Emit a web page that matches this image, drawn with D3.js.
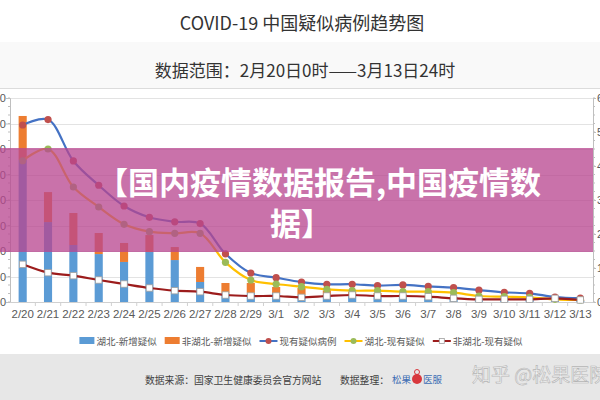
<!DOCTYPE html>
<html>
<head>
<meta charset="utf-8">
<script src="https://cdn.jsdelivr.net/npm/d3@7"></script>
<style>
html,body{margin:0;padding:0;background:#fff;}
svg{display:block;font-family:"Noto Sans CJK SC","Noto Sans",sans-serif;}
</style>
</head>
<body>
<svg id="c" width="600" height="400"></svg>
<script>
// ---- data ----
const dates = ["2/20","2/21","2/22","2/23","2/24","2/25","2/26","2/27","2/28","2/29","3/1","3/2","3/3","3/4","3/5","3/6","3/7","3/8","3/9","3/10","3/11","3/12","3/13"];
const hubeiNew    = [1114,627,447,376,314,392,329,157,71,71,71,55,50,50,40,40,30,25,20,15,15,10,10];
const nonHubeiNew = [345,235,251,165,149,133,102,118,78,78,47,55,40,30,30,20,15,15,10,10,10,8,8];
const totalCurrent    = [5206,5365,4148,3434,2824,2491,2358,2308,1418,851,715,587,520,522,482,502,458,421,349,285,253,147,115];
const hubeiCurrent    = [4155,4500,3382,2794,2285,2068,2020,2020,1167,647,529,451,373,333,333,304,304,275,176,157,137,78,59];
const nonHubeiCurrent = [1108,862,774,647,529,412,333,303,206,176,176,137,176,206,176,176,157,108,78,78,78,108,59];
const leftTicks  = [0,200,400,600,800,1000,1200,1400,1600];
const rightTicks = [0,1000,2000,3000,4000,5000,6000];
const legendItems = [
  {name:"湖北-新增疑似", type:"bar", color:"#5b9bd5"},
  {name:"非湖北-新增疑似", type:"bar", color:"#ed7d31"},
  {name:"现有疑似病例", type:"line", color:"#4472c4", marker:"#c0504d", shape:"circle"},
  {name:"湖北-现有疑似", type:"line", color:"#ffc000", marker:"#9bbb59", shape:"circle"},
  {name:"非湖北-现有疑似", type:"line", color:"#9c1c1c", marker:"#ffffff", shape:"square"}
];
const title = "COVID-19 中国疑似病例趋势图";
const subtitle = "数据范围：2月20日0时——3月13日24时";
const overlayLines = ["【国内疫情数据报告,中国疫情数","据】"];

// ---- layout ----
const svg = d3.select("#c");
const L = 10, R = 593, T = 98, B = 302;

// header
svg.append("rect").attr("x",0).attr("y",0).attr("width",600).attr("height",42).attr("fill","#ffffff");
svg.append("rect").attr("x",0).attr("y",42).attr("width",600).attr("height",46).attr("fill","#f9f9f9");
svg.append("line").attr("x1",0).attr("x2",600).attr("y1",88.5).attr("y2",88.5).attr("stroke","#dcdcdc");
svg.append("text").attr("x",302).attr("y",30).attr("text-anchor","middle").attr("font-size",18).attr("fill","#333").text(title);
svg.append("text").attr("x",305).attr("y",77).attr("text-anchor","middle").attr("font-size",17).attr("fill","#333").text(subtitle);

const x = d3.scaleBand().domain(dates).range([L,R]).paddingInner(0.68).paddingOuter(0.34);
const yL = d3.scaleLinear().domain([0,1600]).range([B,T]);
const yR = d3.scaleLinear().domain([0,6000]).range([B,T]);
const cx = d => x(d) + x.bandwidth()/2;

// gridlines
svg.append("g").selectAll("line").data(leftTicks.slice(1)).join("line")
  .attr("x1",L).attr("x2",R).attr("y1",d=>Math.round(yL(d))+0.5).attr("y2",d=>Math.round(yL(d))+0.5)
  .attr("stroke","#e3e3e3");

// left axis
const gl = svg.append("g").attr("transform",`translate(${L},0)`)
  .call(d3.axisLeft(yL).tickValues(leftTicks).tickSize(4).tickFormat(d3.format("d")));
gl.select(".domain").attr("stroke","#bfbfbf");
gl.selectAll(".tick line").attr("stroke","#bfbfbf");
gl.selectAll("text").attr("font-size",11).attr("fill","#595959").attr("x",-4);
const minorL = d3.range(0,1600.1,1600/24);
svg.append("g").selectAll("line").data(minorL).join("line")
  .attr("x1",L-2).attr("x2",L).attr("y1",d=>yL(d)).attr("y2",d=>yL(d)).attr("stroke","#bfbfbf");

// right axis
const gr = svg.append("g").attr("transform",`translate(${R},0)`)
  .call(d3.axisRight(yR).tickValues(rightTicks).tickSize(3).tickFormat(d3.format("d")));
gr.select(".domain").attr("stroke","#bfbfbf");
gr.selectAll(".tick line").attr("stroke","#bfbfbf");
gr.selectAll("text").attr("font-size",11).attr("fill","#595959").attr("x",4);
const minorR = d3.range(0,6000.1,250);
svg.append("g").selectAll("line").data(minorR).join("line")
  .attr("x1",R).attr("x2",R+2).attr("y1",d=>yR(d)).attr("y2",d=>yR(d)).attr("stroke","#bfbfbf");

// x axis
const gx = svg.append("g").attr("transform",`translate(0,${B})`)
  .call(d3.axisBottom(x).tickSize(0).tickPadding(8));
gx.select(".domain").attr("stroke","#d0d0d0");
gx.selectAll("text").attr("font-size",11.5).attr("fill","#595959");
svg.append("g").selectAll("line").data(dates.slice(1)).join("line")
  .attr("x1",d=>x(d)-x.step()*0.34).attr("x2",d=>x(d)-x.step()*0.34)
  .attr("y1",B).attr("y2",B+4).attr("stroke","#d0d0d0");

// bars
const stackData = dates.map((d,i)=>({d, a:hubeiNew[i], b:nonHubeiNew[i]}));
svg.append("g").selectAll("rect").data(stackData).join("rect")
  .attr("x",s=>x(s.d)).attr("width",x.bandwidth())
  .attr("y",s=>yL(s.a)).attr("height",s=>yL(0)-yL(s.a)).attr("fill","#5b9bd5");
svg.append("g").selectAll("rect").data(stackData).join("rect")
  .attr("x",s=>x(s.d)).attr("width",x.bandwidth())
  .attr("y",s=>yL(s.a+s.b)).attr("height",s=>yL(s.a)-yL(s.a+s.b)).attr("fill","#ed7d31");

// lines
const series = [
  {vals:totalCurrent, item:legendItems[2]},
  {vals:hubeiCurrent, item:legendItems[3]},
  {vals:nonHubeiCurrent, item:legendItems[4]}
];
const lineGen = d3.line().x(p=>cx(p.d)).y(p=>yR(p.v)).curve(d3.curveCatmullRom.alpha(0.5));
series.forEach(s=>{
  const pts = dates.map((d,i)=>({d, v:s.vals[i]}));
  svg.append("path").datum(pts).attr("d",lineGen).attr("fill","none")
    .attr("stroke",s.item.color).attr("stroke-width",2.2);
  const g = svg.append("g");
  if (s.item.shape==="circle") {
    g.selectAll("circle").data(pts).join("circle")
      .attr("cx",p=>cx(p.d)).attr("cy",p=>yR(p.v)).attr("r",3.6)
      .attr("fill",s.item.marker);
  } else {
    g.selectAll("rect").data(pts).join("rect")
      .attr("x",p=>cx(p.d)-3.2).attr("y",p=>yR(p.v)-3.2).attr("width",6.4).attr("height",6.4)
      .attr("fill","#fff").attr("stroke","#a0a0a0").attr("stroke-width",0.8);
  }
});

// legend
const lg = svg.append("g").attr("transform","translate(0,341)");
let cxL = 0;
const itemsG = lg.append("g");
legendItems.forEach(it=>{
  const g = itemsG.append("g").attr("transform",`translate(${cxL},0)`);
  let w;
  if (it.type==="bar") {
    g.append("rect").attr("x",0).attr("y",-4).attr("width",15).attr("height",7).attr("fill",it.color);
    w = 17;
  } else {
    g.append("line").attr("x1",0).attr("x2",18).attr("y1",0).attr("y2",0).attr("stroke",it.color).attr("stroke-width",2);
    if (it.shape==="circle") g.append("circle").attr("cx",9).attr("cy",0).attr("r",3).attr("fill",it.marker);
    else g.append("rect").attr("x",6.5).attr("y",-2.5).attr("width",5).attr("height",5).attr("fill","#fff").attr("stroke","#a0a0a0").attr("stroke-width",0.8);
    w = 20;
  }
  const t = g.append("text").attr("x",w).attr("y",3.5).attr("font-size",9.5).attr("fill","#595959").text(it.name);
  cxL += w + t.node().getComputedTextLength() + 8;
});
itemsG.attr("transform",`translate(${301 - (cxL-8)/2},0)`);

// footer
svg.append("rect").attr("x",0).attr("y",354).attr("width",600).attr("height",46).attr("fill","#e7e7e7");
svg.append("text").attr("x",145).attr("y",384).attr("font-size",9.8).attr("fill","#404040").text("数据来源：国家卫生健康委员会官方网站");
svg.append("text").attr("x",340).attr("y",384).attr("font-size",9.8).attr("fill","#404040").text("数据整理：");
svg.append("text").attr("x",392).attr("y",383).attr("font-size",9.5).attr("fill","#3d6db3").text("松果");
svg.append("circle").attr("cx",417).attr("cy",379).attr("r",5).attr("fill","#d8383d");
svg.append("circle").attr("cx",417).attr("cy",372).attr("r",2.5).attr("fill","none").attr("stroke","#d8383d").attr("stroke-width",1);
svg.append("text").attr("x",423).attr("y",383).attr("font-size",9.5).attr("fill","#3d6db3").text("医服");
svg.append("text").attr("x",472).attr("y",382).attr("font-size",19).attr("fill","#f3f3f3")
  .attr("stroke","#b5b5b5").attr("stroke-width",0.6).text("知乎 @松果医院");

// overlay banner
svg.append("rect").attr("x",0).attr("y",148).attr("width",R).attr("height",104)
  .attr("fill","#b8468f").attr("fill-opacity",0.76);
svg.append("text").attr("x",319).attr("y",194).attr("text-anchor","middle").attr("font-size",31)
  .attr("font-weight","bold").attr("fill","#fff").text(overlayLines[0]);
svg.append("text").attr("x",301).attr("y",235).attr("text-anchor","middle").attr("font-size",31)
  .attr("font-weight","bold").attr("fill","#fff").text(overlayLines[1]);
</script>
</body>
</html>
